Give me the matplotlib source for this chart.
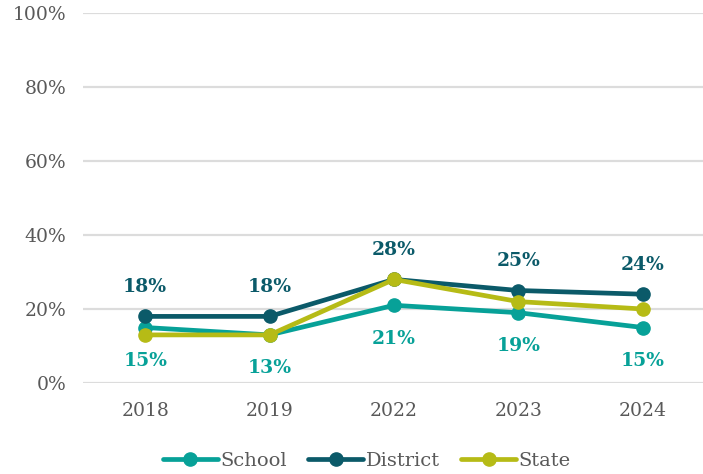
import matplotlib
matplotlib.use("Agg")
import matplotlib.pyplot as plt
from matplotlib.ticker import FuncFormatter

years = ["2018", "2019", "2022", "2023", "2024"]
school = [15, 13, 21, 19, 15]
district = [18, 18, 28, 25, 24]
state = [13, 13, 28, 22, 20]
yticks = [0, 20, 40, 60, 80, 100]

c_school = "#07A198"
c_district = "#0B5A69"
c_state = "#B6BB16"
gray = "#595959"

plt.rcParams['font.family'] = ['DejaVu Serif']

fig = plt.figure(figsize=(7.03, 4.74), dpi=100)
ax = fig.add_axes([83/703, 1-383/474, 622/703, 370/474])

x = list(range(len(years)))
lw = 3.4
ms = 9.5
ax.plot(x, school, color=c_school, lw=lw, marker='o', ms=ms, label="School", zorder=3, solid_capstyle='round')
ax.plot(x, district, color=c_district, lw=lw, marker='o', ms=ms, label="District", zorder=4, solid_capstyle='round')
ax.plot(x, state, color=c_state, lw=lw, marker='o', ms=ms, label="State", zorder=5, solid_capstyle='round')

for xi, v in zip(x, district):
    ax.annotate(f"{v}%", (xi, v), xytext=(0, 21), textcoords='offset points',
                ha='center', va='center', fontsize=13.5, fontweight='bold', color=c_district)
for xi, v in zip(x, school):
    ax.annotate(f"{v}%", (xi, v), xytext=(0, -24), textcoords='offset points',
                ha='center', va='center', fontsize=13.5, fontweight='bold', color=c_school)

ax.set_xlim(-0.5, 4.5)
ax.set_ylim(0, 100)
ax.set_yticks(yticks)
ax.yaxis.set_major_formatter(FuncFormatter(lambda v, p: f"{int(v)}%"))
ax.set_xticks(x)
ax.set_xticklabels(years)
ax.tick_params(axis='both', length=0, colors=gray, labelsize=13.5)
ax.tick_params(axis='y', pad=12)
ax.tick_params(axis='x', pad=14)
ax.grid(axis='y', color="#DCDCDC", lw=1.6)
ax.set_axisbelow(True)
for s in ax.spines.values():
    s.set_visible(False)

leg = fig.legend(loc='center', bbox_to_anchor=(0.522, 1-461/474), ncol=3, frameon=False,
                 fontsize=14, handlelength=2.8, columnspacing=1.1, handletextpad=0.15)
for t in leg.get_texts():
    t.set_color(gray)

fig.savefig("out.png", dpi=100)
